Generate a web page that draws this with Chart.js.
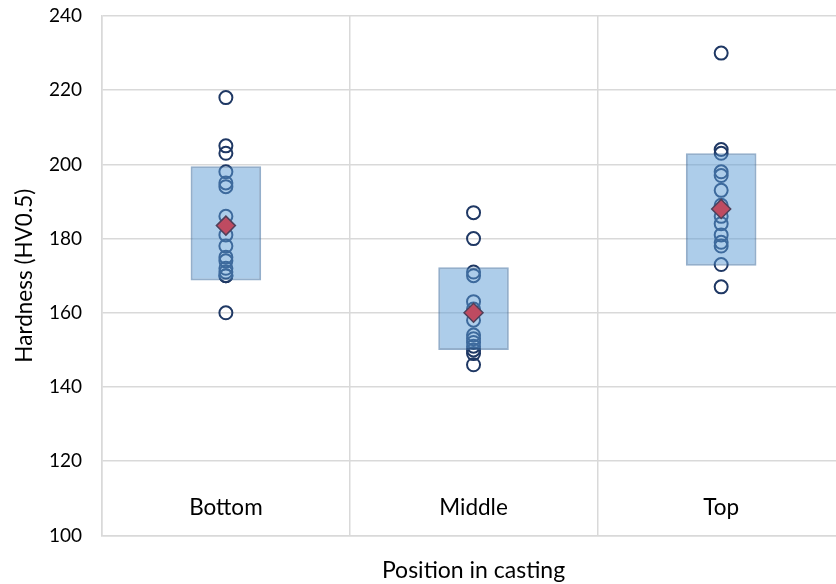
<!DOCTYPE html>
<html>
<head>
<meta charset="utf-8">
<script src="https://cdn.jsdelivr.net/npm/chart.js@4.4.1/dist/chart.umd.min.js"></script>
<style>
  html, body { margin: 0; padding: 0; overflow: hidden; background: #fff; }
  #hardness { position: absolute; left: 0; top: 0; }
</style>
</head>
<body>
<canvas id="hardness" width="856" height="584"></canvas>
<script>
const positions = ['Bottom', 'Middle', 'Top'];
const bottomValues = [218, 205, 203, 198, 195, 194, 186, 181, 178, 175, 174, 172, 171, 170, 170, 160];
const middleValues = [187, 180, 171, 170, 163, 161, 158, 154, 153, 152, 151, 150, 149, 146];
const topValues = [230, 204, 203, 198, 197, 193, 189, 186, 184, 181, 179, 178, 173, 167];
const meanValues = [183.5, 160, 188];
const boxLow = [168.7, 150, 172.7];
const boxHigh = [199.5, 172.3, 203];
const yTicks = [100, 120, 140, 160, 180, 200, 220, 240];
const labelLevel = 107.5; // category names sit inside the plot, just above the floor

const fontFamily = 'Lato, "Open Sans", sans-serif';

const points = [];
[bottomValues, middleValues, topValues].forEach((vals, i) => {
  vals.forEach(v => points.push({ x: positions[i], y: v }));
});

// category names are drawn inside the plot area like in the original
const innerLabels = {
  id: 'innerLabels',
  afterDraw(chart) {
    const { ctx, scales } = chart;
    ctx.save();
    ctx.font = '22.5px ' + fontFamily;
    ctx.fillStyle = '#000';
    ctx.textAlign = 'center';
    ctx.textBaseline = 'middle';
    positions.forEach((p, i) => {
      ctx.fillText(p, scales.x.getPixelForValue(i), scales.y.getPixelForValue(labelLevel));
    });
    ctx.restore();
  }
};

// keep the plot top where the 240 line is in the original
const noTopPad = s => { s.paddingTop = 0; };

const ctx = document.getElementById('hardness').getContext('2d');

const hardnessChart = new Chart(ctx, {
  type: 'bar',
  data: {
    labels: positions,
    datasets: [
      {
        type: 'line',
        label: 'Measurements',
        data: points,
        showLine: false,
        pointStyle: 'circle',
        pointRadius: 6.5,
        pointBorderWidth: 2,
        pointBorderColor: '#1F3864',
        pointBackgroundColor: 'rgba(255,255,255,0)',
        order: 3
      },
      {
        type: 'bar',
        label: 'Spread',
        data: positions.map((p, i) => [boxLow[i], boxHigh[i]]),
        backgroundColor: 'rgba(91,155,213,0.5)',
        borderColor: 'rgba(60,110,160,0.55)',
        borderWidth: 2,
        borderSkipped: false,
        barPercentage: 1,
        categoryPercentage: 0.285,
        order: 2
      },
      {
        type: 'line',
        label: 'Mean',
        data: meanValues,
        showLine: false,
        pointStyle: 'rectRot',
        pointRadius: 9.5,
        pointBorderWidth: 1.5,
        pointBorderColor: '#50405a',
        pointBackgroundColor: '#BE4B61',
        order: 1
      }
    ]
  },
  options: {
    responsive: false,
    animation: false,
    layout: { padding: { top: 16, right: 4, left: 11, bottom: 0 } },
    plugins: {
      legend: { display: false },
      tooltip: { enabled: false }
    },
    scales: {
      x: {
        offset: true,
        afterFit: noTopPad,
        grid: { offset: true, color: '#D9D9D9', lineWidth: 1.5, drawTicks: false },
        border: { color: '#D9D9D9', width: 1.5 },
        ticks: { display: false },
        title: {
          display: true,
          text: 'Position in casting',
          color: '#000',
          font: { family: fontFamily, size: 23 },
          padding: { top: 21, bottom: 0 }
        }
      },
      y: {
        min: 100,
        max: 240,
        afterFit: noTopPad,
        afterBuildTicks: axis => { axis.ticks = yTicks.map(v => ({ value: v })); },
        grid: { color: '#D9D9D9', lineWidth: 1.5, drawTicks: false },
        border: { color: '#D9D9D9', width: 1.5 },
        ticks: { color: '#000', font: { family: fontFamily, size: 19 }, padding: 20 },
        title: {
          display: true,
          text: 'Hardness (HV0.5)',
          color: '#000',
          font: { family: fontFamily, size: 22.5 },
          padding: { top: 0, bottom: -9 }
        }
      }
    }
  },
  plugins: [innerLabels]
});
</script>
</body>
</html>
